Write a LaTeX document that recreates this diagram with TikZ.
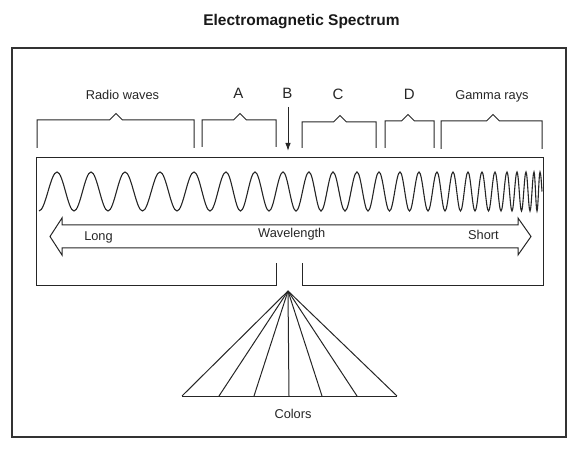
\documentclass[tikz,border=0pt]{standalone}
\usepackage{fontspec}
\setmainfont{Liberation Sans}
\usetikzlibrary{arrows.meta}
\begin{document}
\begin{tikzpicture}[x=1pt,y=-1pt,
  lbl/.style={font=\fontsize{12.8}{14}\selectfont, inner sep=0pt, anchor=base, text=black!85},
  letter/.style={font=\fontsize{15}{17}\selectfont, inner sep=0pt, anchor=base, text=black!85},
  ttl/.style={font=\bfseries\fontsize{15.5}{18}\selectfont, inner sep=0pt, anchor=base, text=black!90},
  frame/.style={line width=1.3pt, draw=black!80},
  ln/.style={line width=1pt, draw=black!85, line join=miter},
  wave/.style={line width=1.1pt, draw=black!85},
]
\useasboundingbox (0,0) rectangle (581,449);

% title and outer frame
\node[ttl] (title) at (301.5,25.5) {Electromagnetic Spectrum};
\draw[frame] (12,48) rectangle (566,437);

% labels
\node[lbl] (radio) at (122.5,100) {Radio waves};
\node[letter] (A) at (238.3,98.5) {A};
\node[letter] (B) at (287.3,99) {B};
\node[letter] (C) at (338,100) {C};
\node[letter] (D) at (409.3,100) {D};
\node[lbl] (gamma) at (492,100) {Gamma rays};

% brackets
\foreach \l/\r/\c/\t/\b in {37/194/116/120/148, 202/276/240/120/147, 302/376/340/122/148, 385/434/408/121/148, 441/542/493/121/149}{
  \draw[ln] (\l,\b) -- (\l,\t) -- (\c-6.5,\t) -- (\c,\t-6.5) -- (\c+6.5,\t) -- (\r,\t) -- (\r,\b);
}

% B arrow
\coordinate (Bs) at (288,107);
\coordinate (Be) at (288,151);
\draw[ln,-{Latex[length=8pt,width=5.5pt]}] (Bs) -- (Be);

% inner box with gap
\draw[ln] (276,263) -- (276,285) -- (36,285) -- (36,158) -- (543,158) -- (543,285) -- (302,285) -- (302,263);

% wave
\draw[wave] (39,211) foreach \c/\e/\y in {
 48/57/172, 65.5/74/211, 82.5/91/172, 99.5/108/211, 116.5/125/172,
 133.75/142.5/211, 151.25/160/172, 168.5/177/211, 185.5/194/172,
 202/210/211, 218/226/172, 233.25/240.5/211, 247.75/255/172,
 262/269/211, 276/283/172, 289.5/296/211, 302.5/309/172, 315/321/211,
 327/333/172, 339/345/211, 351/357/172, 362.5/368/211, 373.5/379/172,
 384.25/389.5/211, 394.75/400/172, 404.75/409.5/211, 414.25/419/172,
 423.5/428/211, 432.5/437/172, 441/445/211, 449/453/172,
 456.75/460.5/211, 464.25/468/172, 471.5/475/211, 478.5/482/172,
 485.25/488.5/211, 491.75/495/172, 498/501/211, 504/507/172,
 509.5/512/211, 514.5/517/172, 519.25/521.5/211, 523.75/526/172,
 528/530/211, 532/534/172, 535.5/537/211, 538.5/540/172}
 { cos (\c,191.5) sin (\e,\y) } cos (542,191.5);

% double block arrow
\draw[ln] (50,236.5) -- (62,218) -- (62,225) -- (518,225) -- (518,218) -- (531,236.5)
  -- (518,255) -- (518,248) -- (62,248) -- (62,255) -- cycle;
\node[lbl] (long) at (98.5,240.5) {Long};
\node[lbl, anchor=base west] (wl) at (258,238) {Wavelength};
\node[lbl] (short) at (483.5,239.5) {Short};

% colour fan
\coordinate (apex) at (288,291);
\foreach \x [count=\i] in {182,219,254,289,322,357,397}{
  \coordinate (f\i) at (\x,396);
  \draw[ln] (apex) -- (f\i);
}
\draw[ln] (f1) -- (f7);
\node[lbl] (colors) at (293,418) {Colors};
\end{tikzpicture}
\end{document}
